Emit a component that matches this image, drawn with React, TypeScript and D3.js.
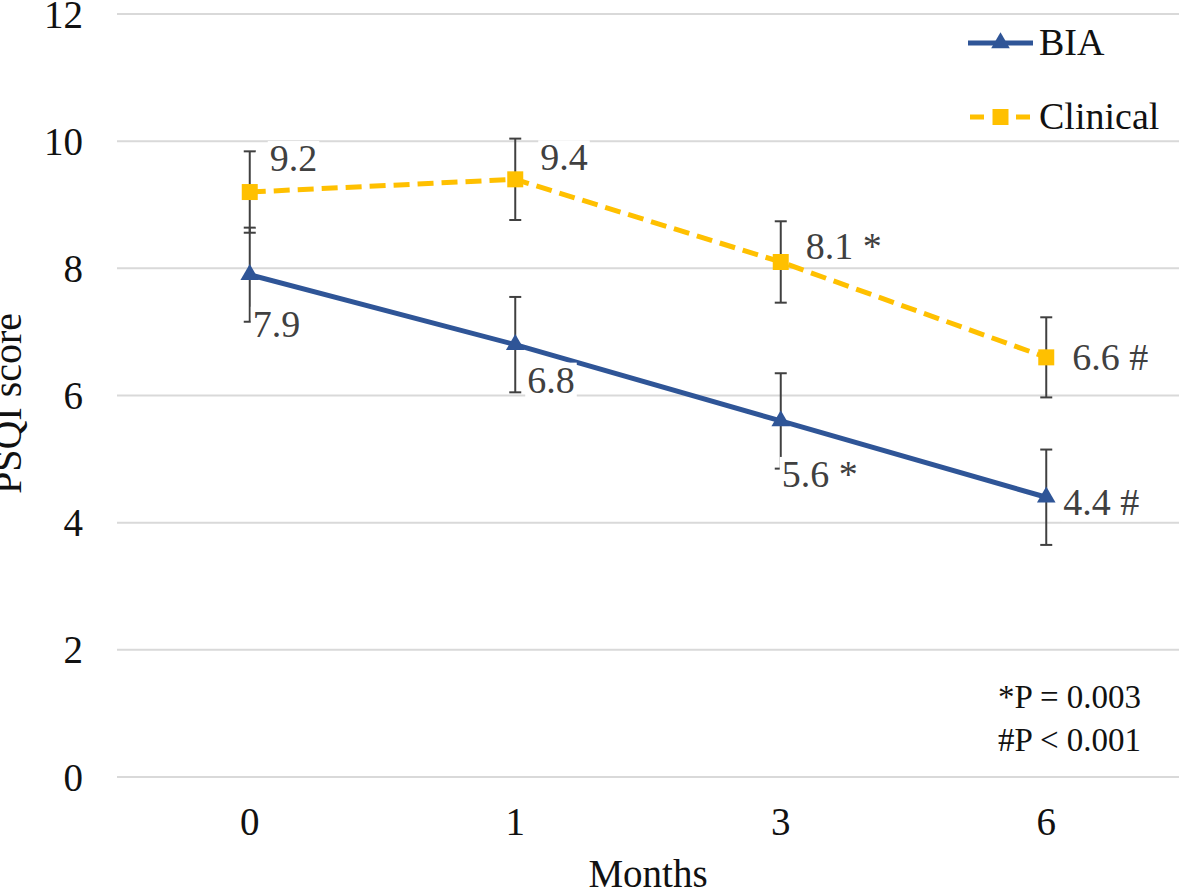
import React, { useEffect, useRef } from "react";
import * as d3 from "d3";

const months = ["0", "1", "3", "6"];
const biaValues = [7.9, 6.8, 5.6, 4.4];
const biaErrors = [0.74, 0.75, 0.75, 0.75];
const biaLabels = ["7.9", "6.8", "5.6 *", "4.4 #"];
const clinicalValues = [9.2, 9.4, 8.1, 6.6];
const clinicalErrors = [0.64, 0.64, 0.64, 0.63];
const clinicalLabels = ["9.2", "9.4", "8.1 *", "6.6 #"];
const yTicks = [0, 2, 4, 6, 8, 10, 12];
const seriesNames = ["BIA", "Clinical"];
const notes = ["*P = 0.003", "#P < 0.001"];

// label placement offsets (text start / baseline relative to point)
const biaLabelOffsets = [[3, 62], [12, 48], [1, 66], [17, 18]];
const clinicalLabelOffsets = [[20, -21], [25, -9], [25, -3], [26, 13]];

const W = 1181;
const H = 890;
const FONT = '"Liberation Serif", "Times New Roman", serif';

export default function App() {
  const ref = useRef<SVGSVGElement>(null);

  useEffect(() => {
    const svg = d3.select(ref.current);
    svg.selectAll("*").remove();

    const left = 117, right = 1179, top = 14, bottom = 777;
    const x = d3.scalePoint<string>().domain(months).range([left, right]).padding(0.5);
    const y = d3.scaleLinear().domain([0, 12]).range([bottom, top]);

    // gridlines
    svg.append("g").selectAll("line").data(yTicks).join("line")
      .attr("x1", left).attr("x2", right)
      .attr("y1", d => y(d)).attr("y2", d => y(d))
      .attr("stroke", "#d9d9d9").attr("stroke-width", 2);

    // y tick labels
    svg.append("g").selectAll("text").data(yTicks).join("text")
      .attr("x", 83).attr("y", d => y(d)).attr("dy", "0.35em")
      .attr("text-anchor", "end")
      .attr("font-family", FONT).attr("font-size", 39).attr("fill", "#111")
      .text(d => String(d));

    // x tick labels
    svg.append("g").selectAll("text").data(months).join("text")
      .attr("x", d => x(d)!).attr("y", 835)
      .attr("text-anchor", "middle")
      .attr("font-family", FONT).attr("font-size", 39).attr("fill", "#111")
      .text(d => d);

    // axis titles
    svg.append("text")
      .attr("transform", `translate(21, ${(top + bottom) / 2 + 8}) rotate(-90)`)
      .attr("text-anchor", "middle")
      .attr("font-family", FONT).attr("font-size", 40).attr("fill", "#111")
      .text("PSQI score");
    svg.append("text")
      .attr("x", 648).attr("y", 887)
      .attr("text-anchor", "middle")
      .attr("font-family", FONT).attr("font-size", 39).attr("fill", "#111")
      .text("Months");

    const series = [
      { name: seriesNames[0], values: biaValues, errors: biaErrors, labels: biaLabels, offsets: biaLabelOffsets, color: "#2F5597", dash: null, symbol: d3.symbolTriangle, size: 150 },
      { name: seriesNames[1], values: clinicalValues, errors: clinicalErrors, labels: clinicalLabels, offsets: clinicalLabelOffsets, color: "#FFC000", dash: "16 8", symbol: d3.symbolSquare, size: 256 },
    ];

    const line = d3.line<number>().x((_, i) => x(months[i])!).y(d => y(d));

    // lines
    series.forEach(s => {
      const p = svg.append("path").attr("d", line(s.values)!)
        .attr("fill", "none").attr("stroke", s.color).attr("stroke-width", 5);
      if (s.dash) p.attr("stroke-dasharray", s.dash);
    });

    // error bars
    series.forEach(s => {
      const g = svg.append("g").attr("stroke", "#404040").attr("stroke-width", 2);
      s.values.forEach((v, i) => {
        const cx = x(months[i])!;
        const y1 = y(v + s.errors[i]);
        const y2 = y(v - s.errors[i]);
        g.append("line").attr("x1", cx).attr("x2", cx).attr("y1", y1).attr("y2", y2);
        g.append("line").attr("x1", cx - 6).attr("x2", cx + 6).attr("y1", y1).attr("y2", y1);
        g.append("line").attr("x1", cx - 6).attr("x2", cx + 6).attr("y1", y2).attr("y2", y2);
      });
    });

    // markers
    series.forEach(s => {
      svg.append("g").selectAll("path").data(s.values).join("path")
        .attr("transform", (d, i) => `translate(${x(months[i])},${y(d)})`)
        .attr("d", d3.symbol().type(s.symbol).size(s.size)()!)
        .attr("fill", s.color);
    });

    // data labels with white background
    series.forEach(s => {
      s.values.forEach((v, i) => {
        const g = svg.append("g");
        const t = g.append("text")
          .attr("x", x(months[i])! + s.offsets[i][0])
          .attr("y", y(v) + s.offsets[i][1])
          .attr("font-family", FONT).attr("font-size", 38).attr("fill", "#404040")
          .text(s.labels[i]);
        const bb = (t.node() as SVGTextElement).getBBox();
        g.insert("rect", "text")
          .attr("x", bb.x - 2).attr("y", bb.y + 4)
          .attr("width", bb.width + 4).attr("height", bb.height - 6)
          .attr("fill", "#fff");
      });
    });

    // legend
    series.forEach((s, i) => {
      const ly = [43, 117][i];
      const g = svg.append("g");
      const l = g.append("line").attr("x1", 968).attr("x2", 1033).attr("y1", ly).attr("y2", ly)
        .attr("stroke", s.color).attr("stroke-width", 5);
      if (s.dash) l.attr("stroke-dasharray", "14 9").attr("stroke-dashoffset", -2);
      g.append("path").attr("transform", `translate(1000.5,${ly})`)
        .attr("d", d3.symbol().type(s.symbol).size(s.size)()!)
        .attr("fill", s.color);
      g.append("text").attr("x", 1039).attr("y", ly + 12)
        .attr("font-family", FONT).attr("font-size", 38).attr("fill", "#111")
        .text(s.name);
    });

    // notes
    svg.append("g").selectAll("text").data(notes).join("text")
      .attr("x", 1141).attr("y", (_, i) => 708 + i * 43)
      .attr("text-anchor", "end")
      .attr("font-family", FONT).attr("font-size", 33).attr("fill", "#111")
      .text(d => d);
  }, []);

  return (
    <svg ref={ref} width={W} height={H}
      style={{ position: "absolute", left: 0, top: 0, background: "#fff", display: "block" }} />
  );
}
